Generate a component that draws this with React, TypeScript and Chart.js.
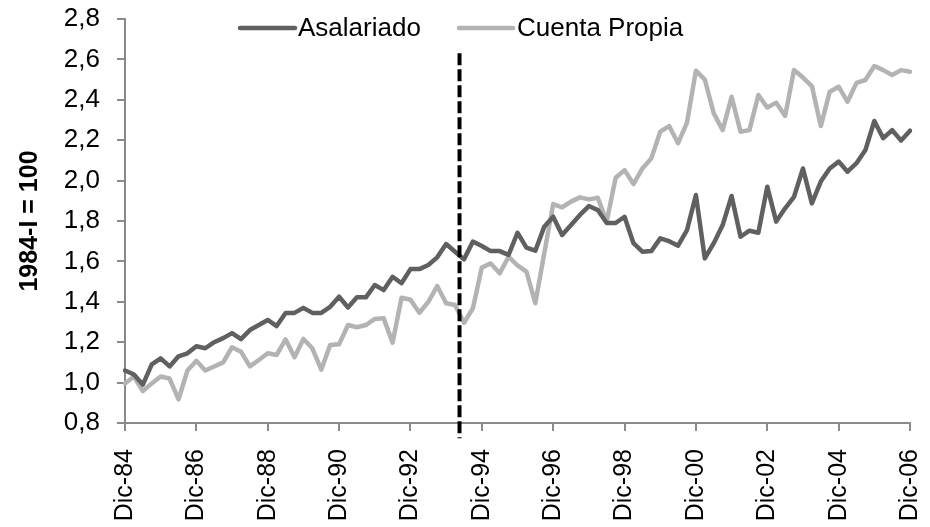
import React, { useEffect, useRef } from "react";
import { Chart, registerables } from "chart.js";

Chart.register(...registerables);

// ---- Data ----
const quarterMonths = ["Dic", "Mar", "Jun", "Sep"];
const firstYear = 84;
const nQuarters = 89;
const categories: string[] = [];
for (let i = 0; i < nQuarters; i++) {
  const yy = (firstYear + Math.ceil(i / 4)) % 100;
  categories.push(`${quarterMonths[i % 4]}-${String(yy).padStart(2, "0")}`);
}

const asalariado = [
  1.06, 1.04, 0.99, 1.09, 1.12, 1.08, 1.13, 1.145, 1.18, 1.17,
  1.20, 1.22, 1.245, 1.215, 1.26, 1.285, 1.31, 1.28, 1.345, 1.345,
  1.37, 1.345, 1.345, 1.375, 1.425, 1.372, 1.422, 1.422, 1.483, 1.458,
  1.524, 1.492, 1.562, 1.562, 1.582, 1.62, 1.686, 1.648, 1.61, 1.698,
  1.676, 1.651, 1.651, 1.632, 1.742, 1.668, 1.653, 1.772, 1.821, 1.731,
  1.78, 1.83, 1.874, 1.854, 1.79, 1.79, 1.821, 1.69, 1.648, 1.651,
  1.714, 1.70, 1.678, 1.755, 1.929, 1.615, 1.69, 1.78, 1.924, 1.722,
  1.752, 1.742, 1.97, 1.797, 1.863, 1.92, 2.06, 1.887, 1.995, 2.06,
  2.094, 2.044, 2.086, 2.151, 2.295, 2.21, 2.25, 2.198, 2.247,
];

const cuentaPropia = [
  0.996, 1.03, 0.958, 0.996, 1.03, 1.02, 0.917, 1.06, 1.108, 1.06,
  1.08, 1.10, 1.175, 1.153, 1.08, 1.112, 1.145, 1.137, 1.214, 1.125,
  1.216, 1.17, 1.064, 1.186, 1.19, 1.285, 1.274, 1.285, 1.315, 1.318,
  1.198, 1.42, 1.41, 1.346, 1.40, 1.478, 1.393, 1.384, 1.296, 1.368,
  1.57, 1.59, 1.541, 1.623, 1.58, 1.549, 1.393, 1.64, 1.884, 1.868,
  1.896, 1.917, 1.907, 1.915, 1.797, 2.014, 2.052, 1.983, 2.06, 2.11,
  2.242, 2.27, 2.185, 2.287, 2.544, 2.50, 2.333, 2.25, 2.415, 2.242,
  2.25, 2.424, 2.362, 2.386, 2.32, 2.548, 2.51, 2.468, 2.27, 2.44,
  2.465, 2.39, 2.484, 2.498, 2.567, 2.547, 2.523, 2.547, 2.539,
];

const seriesNames = ["Asalariado", "Cuenta Propia"];
const yTitle = "1984-I = 100";
const yMin = 0.8;
const yMax = 2.8;
const yStep = 0.2;
const labelEvery = 8;

// dashed marker (between Mar-94 and Jun-94)
const markerIndex = 37.5;
const markerTop = 2.63;
const markerBottom = 0.725;

const DARK = "#606060";
const LIGHT = "#B3B3B3";
const AXIS = "#8a8a8a";
const FONT = "'Liberation Sans', Arial, sans-serif";

const overlayPlugin = {
  id: "overlay",
  afterDatasetsDraw(chart: any) {
    const { ctx, scales } = chart;
    const x = scales.x.getPixelForValue(markerIndex);
    const y1 = scales.y.getPixelForValue(markerTop);
    const y2 = scales.y.getPixelForValue(markerBottom);
    ctx.save();
    ctx.strokeStyle = "#000";
    ctx.lineWidth = 4;
    ctx.setLineDash([12, 4]);
    ctx.beginPath();
    ctx.moveTo(x, y1);
    ctx.lineTo(x, y2);
    ctx.stroke();
    ctx.restore();
  },
  afterDraw(chart: any) {
    const { ctx } = chart;
    const items = [
      { name: seriesNames[0], color: DARK, x0: 240, x1: 295, tx: 298 },
      { name: seriesNames[1], color: LIGHT, x0: 459, x1: 513, tx: 517 },
    ];
    const ly = 28;
    ctx.save();
    ctx.lineCap = "round";
    ctx.lineWidth = 4.5;
    ctx.font = `26px ${FONT}`;
    ctx.textBaseline = "middle";
    ctx.textAlign = "left";
    for (const it of items) {
      ctx.strokeStyle = it.color;
      ctx.beginPath();
      ctx.moveTo(it.x0, ly);
      ctx.lineTo(it.x1, ly);
      ctx.stroke();
      ctx.fillStyle = "#000";
      ctx.fillText(it.name, it.tx, ly + 1);
    }
    ctx.restore();
  },
};

export default function App() {
  const ref = useRef<HTMLCanvasElement | null>(null);
  useEffect(() => {
    if (!ref.current) return;
    const chart = new Chart(ref.current, {
      type: "line",
      data: {
        labels: categories,
        datasets: [
          {
            label: seriesNames[0],
            data: asalariado,
            borderColor: DARK,
            backgroundColor: DARK,
            borderWidth: 4.5,
            pointRadius: 0,
            tension: 0,
            borderJoinStyle: "round",
            borderCapStyle: "round",
          },
          {
            label: seriesNames[1],
            data: cuentaPropia,
            borderColor: LIGHT,
            backgroundColor: LIGHT,
            borderWidth: 4.5,
            pointRadius: 0,
            tension: 0,
            borderJoinStyle: "round",
            borderCapStyle: "round",
          },
        ],
      },
      options: {
        animation: false,
        responsive: false,
        events: [],
        layout: { padding: { left: 0, right: 20, top: 19, bottom: 0 } },
        plugins: {
          legend: { display: false },
          tooltip: { enabled: false },
        },
        scales: {
          x: {
            type: "category",
            offset: false,
            afterFit: (s: any) => {
              s.height = 104;
              s.paddingLeft = 0;
              s.paddingRight = 0;
              s.paddingTop = 0;
              s.paddingBottom = 0;
            },
            grid: {
              display: true,
              drawOnChartArea: false,
              drawTicks: true,
              tickLength: 8,
              color: AXIS,
              lineWidth: 2,
            },
            border: { display: true, color: AXIS, width: 2 },
            ticks: {
              autoSkip: false,
              minRotation: 90,
              maxRotation: 90,
              padding: 18,
              color: "#000",
              font: { family: FONT, size: 25 },
              callback: (_v: any, index: number) =>
                index % labelEvery === 0 ? categories[index] : null,
            },
          },
          y: {
            min: yMin,
            max: yMax,
            afterFit: (s: any) => {
              s.width = 125;
              s.paddingLeft = 0;
              s.paddingRight = 0;
              s.paddingTop = 0;
              s.paddingBottom = 0;
            },
            grid: {
              display: true,
              drawOnChartArea: false,
              drawTicks: true,
              tickLength: 8,
              color: AXIS,
              lineWidth: 2,
            },
            border: { display: true, color: AXIS, width: 2 },
            ticks: {
              stepSize: yStep,
              padding: 17,
              color: "#000",
              font: { family: FONT, size: 26 },
              callback: (v: any) => Number(v).toFixed(1).replace(".", ","),
            },
            title: {
              display: true,
              text: yTitle,
              color: "#000",
              font: { family: FONT, size: 25, weight: "bold" },
              padding: { top: 15, bottom: 0 },
            },
          },
        },
      },
      plugins: [overlayPlugin],
    });
    return () => chart.destroy();
  }, []);
  return (
    <div style={{ position: "fixed", left: 0, top: 0, width: 930, height: 527, background: "#fff" }}>
      <canvas ref={ref} width={930} height={527} style={{ display: "block" }} />
    </div>
  );
}
